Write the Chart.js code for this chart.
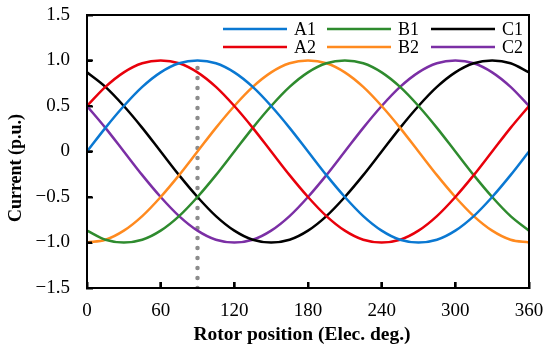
<!DOCTYPE html>
<html>
<head>
<meta charset="utf-8">
<script src="https://cdn.jsdelivr.net/npm/chart.js@4.4.1/dist/chart.umd.min.js"></script>
<style>
  html, body { margin: 0; padding: 0; background: #fff; }
  #wrap { position: relative; width: 550px; height: 353px; }
  .mark { position: absolute; background: #000; pointer-events: none; }
</style>
</head>
<body>
<div id="wrap"><canvas id="chart" width="550" height="353"></canvas></div>
<script>
// rotor position, elec. deg.
const angles = [0, 15, 30, 45, 60, 75, 90, 105, 120, 135, 150, 165, 180,
  195, 210, 225, 240, 255, 270, 285, 300, 315, 330, 345, 360];

// currents in p.u.
const a1 = [0, 0.26, 0.5, 0.71, 0.87, 0.97, 1, 0.97, 0.87, 0.71, 0.5, 0.26, 0,
  -0.26, -0.5, -0.71, -0.87, -0.97, -1, -0.97, -0.87, -0.71, -0.5, -0.26, 0];
const a2 = [0.5, 0.71, 0.87, 0.97, 1, 0.97, 0.87, 0.71, 0.5, 0.26, 0, -0.26, -0.5,
  -0.71, -0.87, -0.97, -1, -0.97, -0.87, -0.71, -0.5, -0.26, 0, 0.26, 0.5];
const b1 = [-0.87, -0.97, -1, -0.97, -0.87, -0.71, -0.5, -0.26, 0, 0.26, 0.5, 0.71, 0.87,
  0.97, 1, 0.97, 0.87, 0.71, 0.5, 0.26, 0, -0.26, -0.5, -0.71, -0.87];
const b2 = [-1, -0.97, -0.87, -0.71, -0.5, -0.26, 0, 0.26, 0.5, 0.71, 0.87, 0.97, 1,
  0.97, 0.87, 0.71, 0.5, 0.26, 0, -0.26, -0.5, -0.71, -0.87, -0.97, -1];
const c1 = [0.87, 0.71, 0.5, 0.26, 0, -0.26, -0.5, -0.71, -0.87, -0.97, -1, -0.97, -0.87,
  -0.71, -0.5, -0.26, 0, 0.26, 0.5, 0.71, 0.87, 0.97, 1, 0.97, 0.87];
const c2 = [0.5, 0.26, 0, -0.26, -0.5, -0.71, -0.87, -0.97, -1, -0.97, -0.87, -0.71, -0.5,
  -0.26, 0, 0.26, 0.5, 0.71, 0.87, 0.97, 1, 0.97, 0.87, 0.71, 0.5];

// dotted marker at 90 deg
const markerX = [90, 90];
const markerY = [-1.5, 1.0];

const yTickValues = [-1.5, -1, -0.5, 0, 0.5, 1, 1.5];
const yTickLabels = ["\u22121.5", "\u22121.0", "\u22120.5", "0", "0.5", "1.0", "1.5"];

const xTitle = "Rotor position (Elec. deg.)";
const yTitle = "Current (p.u.)";

const FONT = "'Liberation Serif', 'Times New Roman', serif";

function series(label, values, color) {
  return {
    label: label,
    data: angles.map((x, i) => ({ x: x, y: values[i] })),
    borderColor: color,
    borderWidth: 2.5,
    pointRadius: 0,
    cubicInterpolationMode: "monotone",
    fill: false,
    inLegend: true,
  };
}

// box frame with inward tick marks on the canvas
const frame = {
  id: "boxFrame",
  afterDraw(chart) {
    const ctx = chart.ctx;
    const a = chart.chartArea;
    ctx.save();
    ctx.setLineDash([]);
    ctx.strokeStyle = "#000";
    ctx.lineWidth = 2;
    ctx.beginPath();
    ctx.moveTo(a.left, a.top);
    ctx.lineTo(a.right, a.top);
    ctx.lineTo(a.right, a.bottom);
    ctx.lineTo(a.left, a.bottom);
    ctx.closePath();
    chart.scales.x.ticks.forEach((t) => {
      const px = chart.scales.x.getPixelForValue(t.value);
      ctx.moveTo(px, a.bottom);
      ctx.lineTo(px, a.bottom - 6);
    });
    chart.scales.y.ticks.forEach((t) => {
      const py = chart.scales.y.getPixelForValue(t.value);
      ctx.moveTo(a.left, py);
      ctx.lineTo(a.left + 5, py);
    });
    ctx.stroke();
    ctx.restore();
  },
};

// legend inside the plot (3 cols x 2 rows) and the axis titles
const decor = {
  id: "decor",
  afterDraw(chart) {
    const ctx = chart.ctx;
    const a = chart.chartArea;
    ctx.save();
    const items = chart.data.datasets.filter((d) => d.inLegend);
    ctx.font = "18px " + FONT;
    ctx.textBaseline = "middle";
    ctx.textAlign = "left";
    items.forEach((d, i) => {
      const col = Math.floor(i / 2);
      const row = i % 2;
      const x = a.left + 136 + col * 104;
      const y = a.top + 14 + row * 18;
      ctx.strokeStyle = d.borderColor;
      ctx.lineWidth = 2.5;
      ctx.beginPath();
      ctx.moveTo(x, y);
      ctx.lineTo(x + 64, y);
      ctx.stroke();
      ctx.fillStyle = "#000";
      ctx.fillText(d.label, x + 71, y + 1);
    });

    ctx.fillStyle = "#000";
    ctx.textAlign = "center";
    ctx.textBaseline = "alphabetic";
    ctx.font = "bold 19.5px " + FONT;
    ctx.fillText(xTitle, 302, 340);
    ctx.translate(21, 168);
    ctx.rotate(-Math.PI / 2);
    ctx.font = "bold 18px " + FONT;
    ctx.fillText(yTitle, 0, 0);
    ctx.restore();
  },
};

const axisBorder = { display: true, color: "#000", width: 2 };
const inwardTicks = {
  display: true,
  drawOnChartArea: false,
  drawTicks: true,
  tickLength: -6,
  tickColor: "#000",
  tickWidth: 2,
};

const chart = new Chart(document.getElementById("chart"), {
  type: "line",
  data: {
    datasets: [
      series("A1", a1, "#0a78d2"),
      series("A2", a2, "#e8000b"),
      series("B1", b1, "#2e8b2e"),
      series("B2", b2, "#ff8a1f"),
      series("C1", c1, "#000000"),
      series("C2", c2, "#7b2fa5"),
      {
        label: "marker",
        data: markerX.map((x, i) => ({ x: x, y: markerY[i] })),
        borderColor: "#8c8c8c",
        borderWidth: 4.5,
        borderDash: [0, 10],
        borderCapStyle: "round",
        pointRadius: 0,
        fill: false,
      },
    ],
  },
  options: {
    responsive: false,
    animation: false,
    layout: { padding: { top: 15, right: 21, left: 0, bottom: 0 } },
    plugins: {
      legend: { display: false },
      tooltip: { enabled: false },
    },
    scales: {
      x: {
        type: "linear",
        position: "bottom",
        min: 0,
        max: 360,
        ticks: {
          stepSize: 60,
          color: "#000",
          padding: 18,
          font: { family: FONT, size: 19 },
        },
        grid: inwardTicks,
        border: axisBorder,
        afterFit(scale) {
          scale.height = 65;
          scale.paddingLeft = 0;
          scale.paddingRight = 0;
        },
      },
      y: {
        type: "linear",
        position: "left",
        min: -1.5,
        max: 1.5,
        afterBuildTicks(scale) {
          scale.ticks = yTickValues.map((v) => ({ value: v }));
        },
        ticks: {
          color: "#000",
          padding: 23,
          font: { family: FONT, size: 19 },
          callback: (v) => yTickLabels[yTickValues.indexOf(v)],
        },
        grid: inwardTicks,
        border: axisBorder,
        afterFit(scale) {
          scale.width = 87;
          scale.paddingTop = 0;
          scale.paddingBottom = 0;
        },
      },
    },
  },
  plugins: [frame, decor],
});

// same frame and ticks once more as page elements over the canvas
function addMark(left, top, width, height) {
  const el = document.createElement("div");
  el.className = "mark";
  el.style.left = left + "px";
  el.style.top = top + "px";
  el.style.width = width + "px";
  el.style.height = height + "px";
  document.getElementById("wrap").appendChild(el);
}

const area = chart.chartArea;
const w = area.right - area.left;
const h = area.bottom - area.top;
addMark(area.left - 1, area.top - 1, w + 2, 2);
addMark(area.left - 1, area.bottom - 1, w + 2, 2);
addMark(area.left - 1, area.top - 1, 2, h + 2);
addMark(area.right - 1, area.top - 1, 2, h + 2);
chart.scales.x.ticks.forEach((t) => {
  addMark(chart.scales.x.getPixelForValue(t.value) - 1, area.bottom - 6, 2, 6);
});
chart.scales.y.ticks.forEach((t) => {
  addMark(area.left, chart.scales.y.getPixelForValue(t.value) - 1, 5, 2);
});
</script>
</body>
</html>
